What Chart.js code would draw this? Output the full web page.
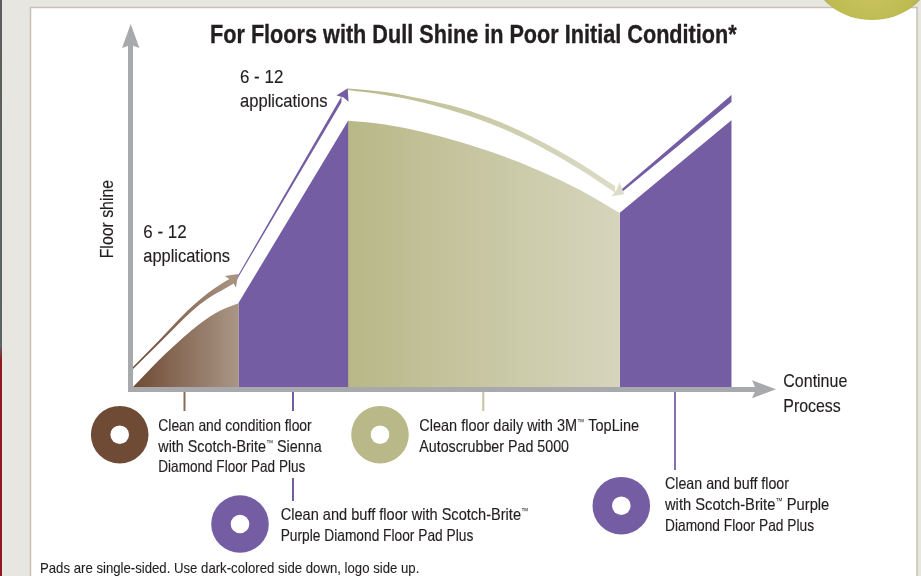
<!DOCTYPE html>
<html>
<head>
<meta charset="utf-8">
<style>html,body{margin:0;padding:0;background:#fff}canvas{display:block}</style>
<script src="https://cdn.jsdelivr.net/npm/chart.js@4"></script>
</head>
<body>
<canvas id="c" width="921" height="576"></canvas>
<script>
// ---- Data ----
const siennaX = [2.5, 14.5, 27.5, 44.5, 61.5, 74.5, 84.5, 95.5, 108.3];
const siennaY = [2.8, 15.3, 28.8, 44.8, 59.8, 69.8, 76.3, 81.8, 86.5];
const purpleAX = [107.8, 217.9];
const purpleAY = [86.5, 269.5];
const toplineX = [217.5, 254.5, 294.5, 329.5, 369.5, 409.5, 449.5, 489.4];
const toplineY = [269, 265.3, 257.3, 247.8, 234.8, 218.8, 199.8, 176.8];
const purpleBX = [489, 601.2];
const purpleBY = [176.8, 269.8];

const siennaArrowX = [2.5, 27.5, 44.5, 61.5, 77.5, 94.5, 102.5];
const siennaArrowTop = [22.8, 48.3, 66.3, 83.3, 96.8, 108.3, 112.8];
const siennaArrowBottom = [20.8, 45.3, 62.3, 78.8, 91.3, 101.3, 105.8];
const purpleArrowX = [104.5, 211.2];
const purpleArrowTop = [109.1, 293.8];
const purpleArrowBottom = [107.1, 287.8];
const toplineArrowX = [217.5, 254.5, 294.5, 329.5, 369.5, 409.5, 449.5, 484.5];
const toplineArrowTop = [301.3, 297.8, 290.3, 281.8, 267.8, 249, 226.6, 203.8];
const toplineArrowBottom = [299.8, 294.8, 286.8, 276.8, 262.3, 243.3, 220.3, 197.3];
const finalArrowX = [491.5, 601.2];
const finalArrowTop = [200.8, 295.1];
const finalArrowBottom = [197.8, 288.1];

const arrowTipX = [107.8, 217.2, 493.8];
const arrowTipY = [115.8, 301.5, 195.5];
const leaderX = [54, 162.5, 352.8, 544.5];

const titleText = 'For Floors with Dull Shine in Poor Initial Condition*';
const yAxisLabel = 'Floor shine';
const xAxisLabel = ['Continue', 'Process'];
const applicationsLabel = ['6 - 12', 'applications'];
const stepSienna = ['Clean and condition floor', 'with Scotch-Brite\u2122 Sienna', 'Diamond Floor Pad Plus'];
const stepPurpleA = ['Clean and buff floor with Scotch-Brite\u2122', 'Purple Diamond Floor Pad Plus'];
const stepTopline = ['Clean floor daily with 3M\u2122 TopLine', 'Autoscrubber Pad 5000'];
const stepPurpleB = ['Clean and buff floor', 'with Scotch-Brite\u2122 Purple', 'Diamond Floor Pad Plus'];
const footnote = 'Pads are single-sided. Use dark-colored side down, logo side up.';

// ---- Styling ----
const PURPLE = '#745da3', KHAKI = '#b9b888', BROWN = '#6f4b35', AXIS = '#a8a9ad', INK = '#231f20';
const NARROW = '"Liberation Sans Narrow","Liberation Sans",sans-serif';

const pairs = (xs, ys) => xs.map((x, i) => ({x, y: ys[i]}));
const hGrad = (xs, from, to) => ctx => {
  const c = ctx.chart;
  if (!c.chartArea) return from;
  const s = c.scales.x;
  const g = c.ctx.createLinearGradient(s.getPixelForValue(xs[0]), 0, s.getPixelForValue(xs[xs.length - 1]), 0);
  g.addColorStop(0, from);
  g.addColorStop(1, to);
  return g;
};
const area = (label, xs, ys, color) => ({
  label, data: pairs(xs, ys), fill: 'origin', backgroundColor: color,
  borderWidth: 0, pointRadius: 0, cubicInterpolationMode: 'monotone'
});
const edge = (label, xs, ys) => ({
  label, data: pairs(xs, ys), fill: false, borderWidth: 0, pointRadius: 0,
  borderColor: 'transparent', cubicInterpolationMode: 'monotone'
});
const band = (label, xs, ys, color) => ({
  label, data: pairs(xs, ys), fill: '-1', backgroundColor: color, borderWidth: 0,
  borderColor: 'transparent', pointRadius: 0, cubicInterpolationMode: 'monotone'
});

// Draws text fitted to a measured width (the reference face is a condensed grotesque).
// The trademark sign is set small and raised, as in the reference.
function fitText(ctx, str, x, y, width, font, weight) {
  const size = parseFloat(font.match(/([\d.]+)px/)[1]);
  const tmFont = font.replace(/[\d.]+px/, (size * 0.5) + 'px');
  const parts = str.split('\u2122');
  ctx.save();
  ctx.textBaseline = 'alphabetic';
  ctx.textAlign = 'left';
  ctx.fillStyle = INK;
  ctx.strokeStyle = INK;
  ctx.lineWidth = weight;
  ctx.lineJoin = 'round';
  let total = 0;
  parts.forEach((p, i) => {
    ctx.font = font;
    total += ctx.measureText(p).width;
    if (i < parts.length - 1) {
      ctx.font = tmFont;
      total += ctx.measureText('\u2122').width;
    }
  });
  ctx.translate(x, y);
  ctx.scale(width / total, 1);
  let cx = 0;
  parts.forEach((p, i) => {
    ctx.font = font;
    ctx.fillText(p, cx, 0);
    if (weight) ctx.strokeText(p, cx, 0);
    cx += ctx.measureText(p).width;
    if (i < parts.length - 1) {
      ctx.font = tmFont;
      ctx.fillText('\u2122', cx, -size * 0.36);
      cx += ctx.measureText('\u2122').width;
    }
  });
  ctx.restore();
}

const backdrop = {
  id: 'backdrop',
  beforeDraw(chart) {
    const ctx = chart.ctx;
    ctx.save();
    ctx.fillStyle = '#e8e6e0';
    ctx.fillRect(0, 0, 921, 576);
    const strip = ctx.createLinearGradient(0, 0, 0, 576);
    strip.addColorStop(0, '#5e5e5c');
    strip.addColorStop(0.6, '#5a6366');
    strip.addColorStop(0.625, '#8c1c20');
    strip.addColorStop(1, '#8c1c20');
    ctx.fillStyle = strip;
    ctx.fillRect(0, 0, 2, 576);
    ctx.fillStyle = '#ffffff';
    ctx.fillRect(31, 8, 886, 568);
    ctx.strokeStyle = '#c9c2b4';
    ctx.lineWidth = 1.5;
    ctx.beginPath();
    ctx.moveTo(30.5, 576);
    ctx.lineTo(30.5, 7.5);
    ctx.lineTo(917, 7.5);
    ctx.lineTo(917, 576);
    ctx.stroke();
    const g = ctx.createRadialGradient(868, -12, 8, 872, -30, 60);
    g.addColorStop(0, '#c9c45e');
    g.addColorStop(0.8, '#bdbb52');
    g.addColorStop(1, '#aaad58');
    ctx.fillStyle = g;
    ctx.beginPath();
    ctx.ellipse(872, -30, 60, 50, 0, 0, Math.PI * 2);
    ctx.fill();
    ctx.restore();
  }
};

const arrowHeads = {
  id: 'arrowHeads',
  afterDraw(chart) {
    const {ctx, scales: {x, y}} = chart;
    const head = (tx, ty, angle, len, half, notch, color) => {
      ctx.save();
      ctx.translate(tx, ty);
      ctx.rotate(angle);
      ctx.fillStyle = color;
      ctx.beginPath();
      ctx.moveTo(0, 0);
      ctx.lineTo(-len, -half);
      ctx.lineTo(-len + notch, 0);
      ctx.lineTo(-len, half);
      ctx.closePath();
      ctx.fill();
      ctx.restore();
    };
    // axes: the heads stand just past the ends of the scale borders
    head(x.getPixelForValue(0) + 0.2, y.top - 21, -Math.PI / 2, 24, 8.7, 3, AXIS);
    head(x.right + 19, y.getPixelForValue(0) - 0.5, 0, 24, 9, 4, AXIS);
    // process arrows
    const specs = [
      {angle: -0.77, len: 11, half: 8, notch: 1.5, color: '#a89382'},
      {angle: -1.10, len: 11.5, half: 6.8, notch: 1.5, color: PURPLE},
      {angle: 0.52, len: 10.3, half: 8.1, notch: 1.5, color: '#dcdcc8'}
    ];
    specs.forEach((s, i) => head(x.getPixelForValue(arrowTipX[i]), y.getPixelForValue(arrowTipY[i]),
      s.angle, s.len, s.half, s.notch, s.color));
  }
};

const annotations = {
  id: 'annotations',
  afterDraw(chart) {
    const {ctx, scales: {x}} = chart;
    // leaders from the axis to each step
    const leaders = [
      {i: 0, segs: [[392, 411]], color: '#8b6b55'},
      {i: 1, segs: [[392, 411], [478, 501]], color: PURPLE},
      {i: 2, segs: [[392, 411]], color: '#c4c3a0'},
      {i: 3, segs: [[392, 470]], color: '#8371ad'}
    ];
    ctx.save();
    ctx.lineWidth = 2;
    leaders.forEach(l => {
      ctx.strokeStyle = l.color;
      const px = x.getPixelForValue(leaderX[l.i]);
      l.segs.forEach(([a, b]) => {
        ctx.beginPath();
        ctx.moveTo(px, a);
        ctx.lineTo(px, b);
        ctx.stroke();
      });
    });
    // pads
    const pads = [
      {cx: 119.7, cy: 434.7, color: BROWN},
      {cx: 380, cy: 434.7, color: KHAKI},
      {cx: 240, cy: 524, color: PURPLE},
      {cx: 621.3, cy: 505.7, color: PURPLE}
    ];
    pads.forEach(p => {
      ctx.fillStyle = p.color;
      ctx.beginPath();
      ctx.arc(p.cx, p.cy, 28.8, 0, Math.PI * 2);
      ctx.fill();
      ctx.fillStyle = '#ffffff';
      ctx.beginPath();
      ctx.arc(p.cx, p.cy, 9.3, 0, Math.PI * 2);
      ctx.fill();
    });
    ctx.restore();

    const bold = `bold 25.5px ${NARROW}`, big = `18.5px ${NARROW}`, mid = `16.5px ${NARROW}`, small = `14.5px ${NARROW}`;
    fitText(ctx, titleText, 210, 43.3, 526.7, bold, 0.35);
    fitText(ctx, applicationsLabel[0], 240, 82.7, 43.3, big, 0.15);
    fitText(ctx, applicationsLabel[1], 240, 106.7, 87.5, big, 0.15);
    fitText(ctx, applicationsLabel[0], 143.3, 237.7, 43.3, big, 0.15);
    fitText(ctx, applicationsLabel[1], 143.3, 262.3, 86.7, big, 0.15);
    fitText(ctx, xAxisLabel[0], 783.3, 387.3, 64, big, 0.15);
    fitText(ctx, xAxisLabel[1], 783.3, 412, 57.4, big, 0.15);
    [[stepSienna, 158.3, [431, 451.7, 472.4], [153.4, 163.4, 147]],
     [stepTopline, 419.3, [431, 451.7], [219.7, 149.7]],
     [stepPurpleA, 280.7, [520, 540.7], [247.6, 192.6]],
     [stepPurpleB, 665, [489.3, 510, 530.7], [124, 164.3, 149]]
    ].forEach(([lines, lx, ys, ws]) => lines.forEach((t, i) => fitText(ctx, t, lx, ys[i], ws[i], mid, 0.15)));
    fitText(ctx, footnote, 40, 573, 379.3, small, 0.1);
    ctx.save();
    ctx.translate(112.5, 258.3);
    ctx.rotate(-Math.PI / 2);
    fitText(ctx, yAxisLabel, 0, 0, 78.3, big, 0.15);
    ctx.restore();
  }
};

new Chart(document.getElementById('c'), {
  type: 'line',
  data: {
    datasets: [
      area('Sienna pad', siennaX, siennaY, hGrad(siennaX, BROWN, '#aa9685')),
      area('Purple pad', purpleAX, purpleAY, PURPLE),
      area('TopLine pad', toplineX, toplineY, hGrad(toplineX, KHAKI, '#d6d5bd')),
      area('Purple pad (repeat)', purpleBX, purpleBY, PURPLE),
      edge('Sienna arrow top', siennaArrowX, siennaArrowTop),
      band('Sienna arrow', siennaArrowX, siennaArrowBottom, hGrad(siennaArrowX, BROWN, '#a89382')),
      edge('Purple arrow top', purpleArrowX, purpleArrowTop),
      band('Purple arrow', purpleArrowX, purpleArrowBottom, PURPLE),
      edge('TopLine arrow top', toplineArrowX, toplineArrowTop),
      band('TopLine arrow', toplineArrowX, toplineArrowBottom, hGrad(toplineArrowX, KHAKI, '#dcdcc8')),
      edge('Continue arrow top', finalArrowX, finalArrowTop),
      band('Continue arrow', finalArrowX, finalArrowBottom, PURPLE)
    ]
  },
  options: {
    responsive: false,
    animation: false,
    events: [],
    layout: {padding: {left: 130.5, top: 45, right: 164, bottom: 186.2}},
    plugins: {legend: {display: false}, tooltip: {enabled: false}, title: {display: false}},
    elements: {line: {tension: 0}},
    scales: {
      x: {
        type: 'linear', min: 0, max: 626.5,
        grid: {display: false, drawTicks: false},
        border: {display: true, color: AXIS, width: 5, z: 1},
        ticks: {display: false}
      },
      y: {
        type: 'linear', min: 0, max: 344.8,
        grid: {display: false, drawTicks: false},
        border: {display: true, color: AXIS, width: 5, z: 1},
        ticks: {display: false}
      }
    }
  },
  plugins: [backdrop, arrowHeads, annotations]
});
</script>
</body>
</html>
